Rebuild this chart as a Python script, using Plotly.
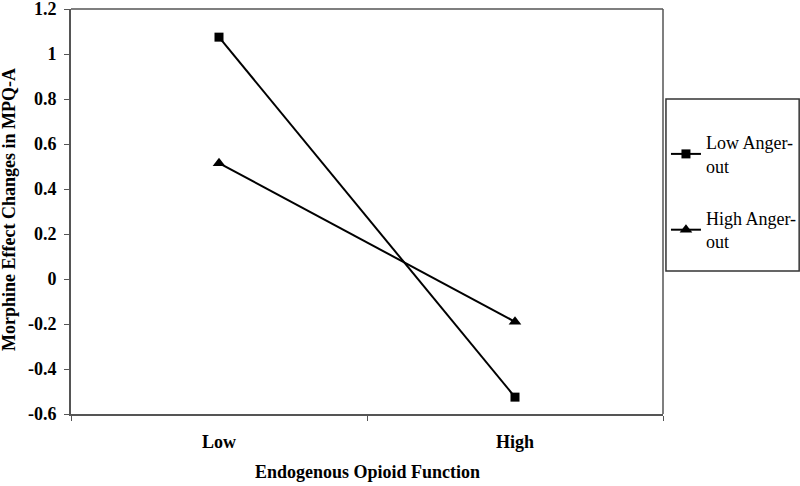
import plotly.graph_objects as go

# data
opioid_levels = ['Low', 'High']
low_anger = [1.075, -0.525]
high_anger = [0.515, -0.19]
y_ticks = [-0.6, -0.4, -0.2, 0, 0.2, 0.4, 0.6, 0.8, 1, 1.2]
y_tick_text = ['-0.6', '-0.4', '-0.2', '0', '0.2', '0.4', '0.6', '0.8', '1', '1.2']

serif = 'Liberation Serif, Times New Roman, serif'
axis_grey = '#555'
plot_h = 486 - 9 - 72  # height of the plotting area in px

fig = go.Figure()
fig.add_trace(go.Scatter(
    x=opioid_levels, y=low_anger, name='Low Anger-<br>out',
    mode='lines+markers', legendgroup='a',
    line=dict(color='black', width=2),
    marker=dict(symbol='square', size=9, color='black'),
))
fig.add_trace(go.Scatter(
    x=opioid_levels, y=high_anger, name='High Anger-<br>out',
    mode='lines+markers', legendgroup='b',
    line=dict(color='black', width=2),
    marker=dict(symbol='triangle-up', size=11, color='black'),
))

# legend frame
fig.add_shape(type='rect', xref='paper', yref='paper',
              x0=1.005, x1=1.23, y0=(414 - 271) / plot_h, y1=(414 - 99) / plot_h,
              line=dict(color='#333', width=1.5))

# top and right frame of the plot area
fig.add_shape(type='line', xref='paper', yref='paper', x0=0, x1=1, y0=1, y1=1,
              line=dict(color=axis_grey, width=1.5))
fig.add_shape(type='line', xref='paper', yref='paper', x0=1, x1=1, y0=0, y1=1,
              line=dict(color=axis_grey, width=1.5))

# axis titles
fig.add_annotation(text='<b>Endogenous Opioid Function</b>', xref='paper', yref='paper',
                   x=0.5, y=(414 - 472) / plot_h, showarrow=False,
                   font=dict(size=18), xanchor='center', yanchor='middle')
fig.add_annotation(text='<b>Morphine Effect Changes in MPQ-A</b>', xref='paper', yref='paper',
                   x=(9 - 71) / 592, y=(414 - 210) / plot_h, showarrow=False, textangle=-90,
                   font=dict(size=18), xanchor='center', yanchor='middle')

fig.update_layout(
    width=800, height=486,
    margin=dict(l=71, r=137, t=9, b=72, autoexpand=False),
    plot_bgcolor='white', paper_bgcolor='white',
    font=dict(family=serif, color='black', size=18),
    showlegend=True,
    legend=dict(x=1.005, y=(414 - 124) / plot_h, xanchor='left', yanchor='top',
                tracegroupgap=26, font=dict(size=18),
                bgcolor='rgba(0,0,0,0)', itemwidth=30),
    xaxis=dict(
        type='category', range=[-0.5, 1.5], automargin=False,
        showline=True, linecolor=axis_grey, linewidth=2,
        ticks='outside', tickson='boundaries', ticklen=5, tickcolor=axis_grey,
        tickfont=dict(size=18, family=serif, weight='bold'),
        ticklabelstandoff=10,
        showgrid=False,
    ),
    yaxis=dict(
        range=[-0.6, 1.2001], tickvals=y_ticks, ticktext=y_tick_text, automargin=False,
        showline=True, linecolor=axis_grey, linewidth=2,
        ticks='outside', ticklen=5, tickcolor=axis_grey,
        tickfont=dict(size=18, family=serif, weight='bold'),
        ticklabelstandoff=4, ticklabeloverflow='allow',
        showgrid=False, zeroline=False,
    ),
)

# the page's default body margin would push the figure 8px down/right
fig.write_html('out.html', config={'displayModeBar': False},
               post_script="document.body.style.margin='0';")
